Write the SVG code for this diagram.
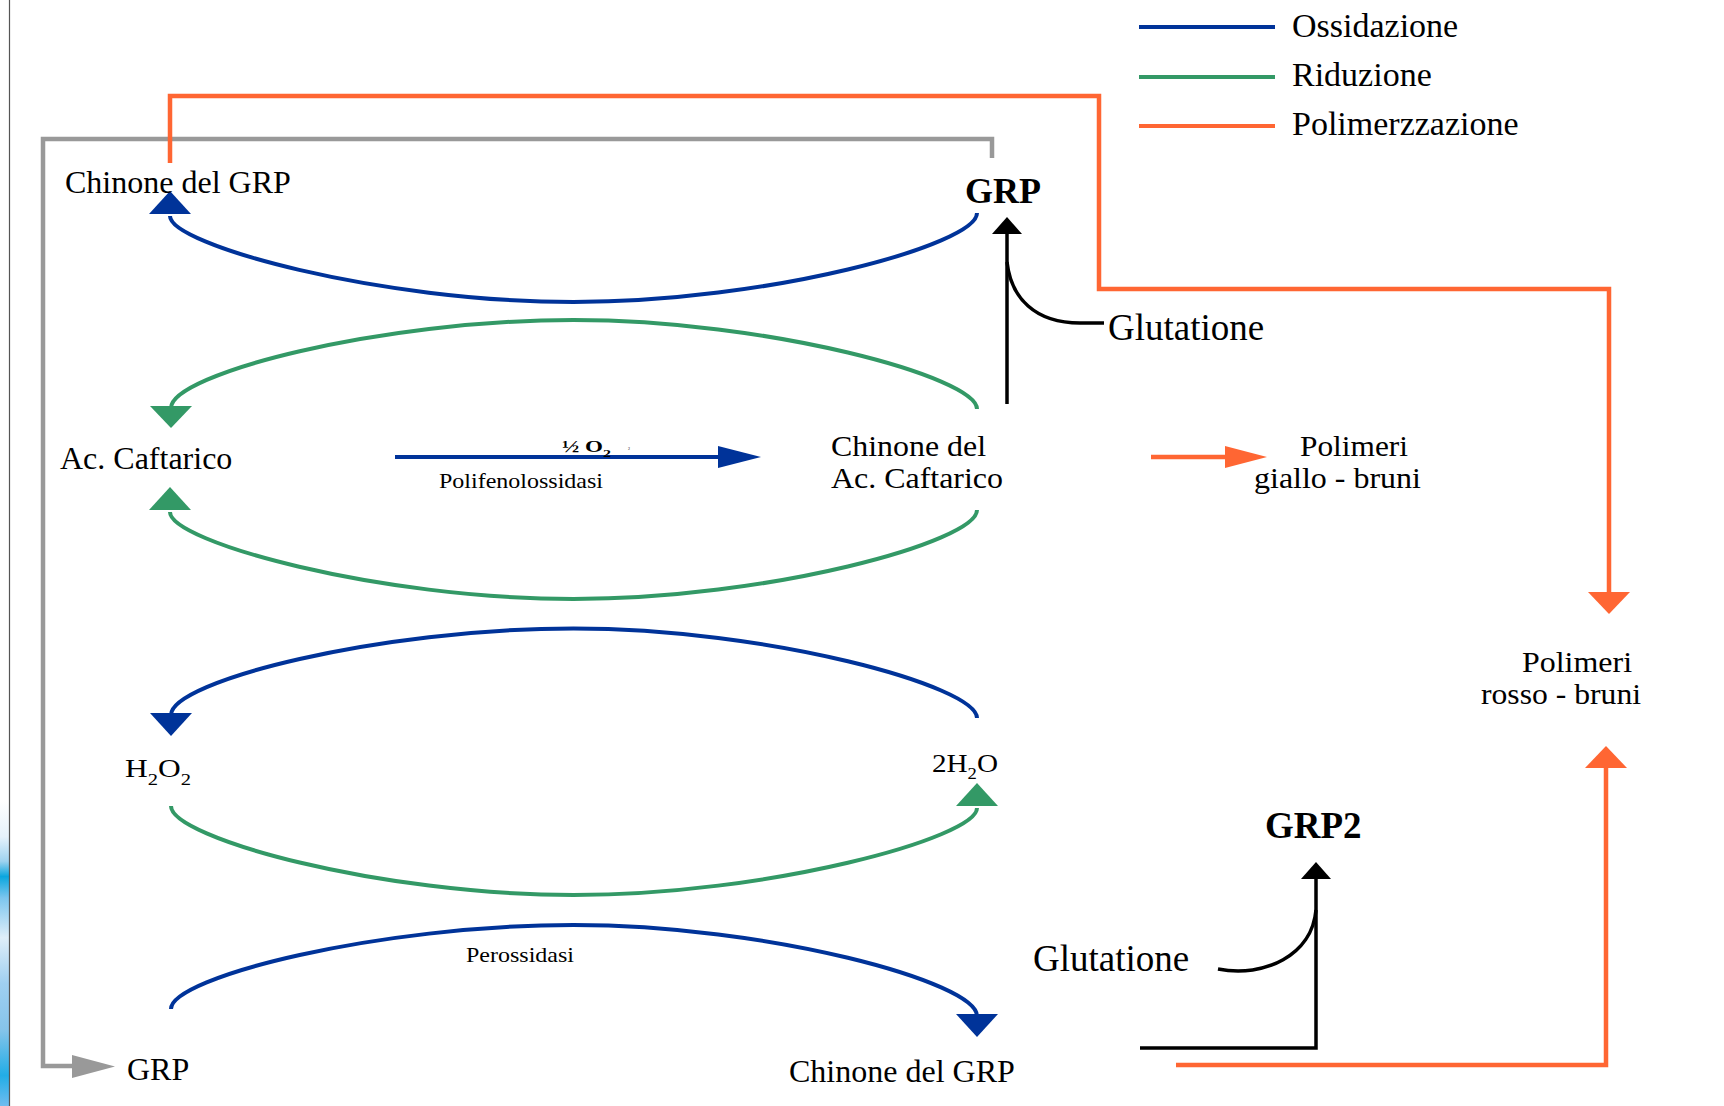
<svg xmlns="http://www.w3.org/2000/svg" width="1724" height="1106" viewBox="0 0 1724 1106">
<defs>
<style>
.t{font-family:"Liberation Serif","Times New Roman",serif;fill:#000}
.m{font-size:32px}
.n{font-size:28.8px}
.b{font-weight:bold}
.ox{fill:none;stroke:#003399;stroke-width:4}
.rd{fill:none;stroke:#339966;stroke-width:4}
.po{fill:none;stroke:#FF6633;stroke-width:4.5}
.gr{fill:none;stroke:#999999;stroke-width:4.5}
.bk{fill:none;stroke:#000;stroke-width:3.5}
.hox{fill:#003399}
.hrd{fill:#339966}
.hpo{fill:#FF6633}
.hgr{fill:#999999}
.hbk{fill:#000}
</style>
<linearGradient id="strip" x1="0" y1="0" x2="0" y2="1">
<stop offset="0" stop-color="#ffffff"/>
<stop offset="0.12" stop-color="#e6f2fb"/>
<stop offset="0.2" stop-color="#9fd3ef"/>
<stop offset="0.25" stop-color="#0aa6df"/>
<stop offset="0.32" stop-color="#7cc6ee"/>
<stop offset="0.45" stop-color="#dfeef9"/>
<stop offset="0.6" stop-color="#9fcff0"/>
<stop offset="0.75" stop-color="#86c4ea"/>
<stop offset="0.9" stop-color="#22ade6"/>
<stop offset="1" stop-color="#6fbcef"/>
</linearGradient>
</defs>
<rect x="0" y="0" width="1724" height="1106" fill="#ffffff"/>
<rect x="0" y="800" width="9" height="306" fill="url(#strip)"/>
<line x1="9.5" y1="0" x2="9.5" y2="1106" stroke="#555555" stroke-width="1.2"/>

<g id="legend">
<line x1="1139" y1="27" x2="1275" y2="27" stroke="#003399" stroke-width="4"/>
<line x1="1139" y1="77" x2="1275" y2="77" stroke="#339966" stroke-width="4"/>
<line x1="1139" y1="126" x2="1275" y2="126" stroke="#FF6633" stroke-width="4"/>
<text class="t" x="1292" y="37" font-size="34">Ossidazione</text>
<text class="t" x="1292" y="86" font-size="34">Riduzione</text>
<text class="t" x="1292" y="135" font-size="34">Polimerzzazione</text>
</g>

<g id="connectors">
<path class="gr" d="M 992 158 L 992 139 L 43 139 L 43 1066 L 74 1066"/>
<polygon class="hgr" points="72,1055 72,1078 115,1066.5"/>
<path class="po" d="M 170 163 L 170 96 L 1099 96 L 1099 289 L 1609 289 L 1609 594"/>
<polygon class="hpo" points="1588,592 1630,592 1609,614"/>
<path class="po" d="M 1176 1065 L 1606 1065 L 1606 766"/>
<polygon class="hpo" points="1585,768 1627,768 1606,746"/>
<line class="po" x1="1151" y1="457" x2="1228" y2="457"/>
<polygon class="hpo" points="1225,446 1225,468 1267,457"/>
<line class="ox" x1="395" y1="457" x2="720" y2="457"/>
<polygon class="hox" points="718,446 718,468 761,457"/>
<path class="ox" d="M 977 213 C 977 245, 767 302, 573.5 302 C 380 302, 170 245, 170 216"/>
<polygon class="hox" points="149,214 191,214 170,191"/>
<path class="rd" d="M 977 409 C 977 377, 767 320, 573.5 320 C 380 320, 171 374, 171 408"/>
<polygon class="hrd" points="150,406 192,406 171,428"/>
<path class="rd" d="M 977 510 C 977 542, 767 599, 573.5 599 C 380 599, 170 542, 170 512"/>
<polygon class="hrd" points="149,510 191,510 170,487"/>
<path class="ox" d="M 977 718 C 977 686, 767 628.5, 573.5 628.5 C 380 628.5, 171 681, 171 715"/>
<polygon class="hox" points="150,713 192,713 171,736"/>
<path class="rd" d="M 171 806 C 171 838, 380 895, 573.5 895 C 767 895, 977 838, 977 808"/>
<polygon class="hrd" points="956,806 998,806 977,783"/>
<path class="ox" d="M 171 1009 C 171 977, 380 925, 573.5 925 C 767 925, 977 982, 977 1016"/>
<polygon class="hox" points="956,1014 998,1014 977,1037"/>
<line class="bk" x1="1007" y1="404" x2="1007" y2="232"/>
<polygon class="hbk" points="992,234 1022,234 1007,217"/>
<path class="bk" d="M 1007 262 C 1011 298, 1035 323, 1080 323 L 1104 323"/>
<path class="bk" d="M 1140 1048 L 1316 1048 L 1316 877"/>
<polygon class="hbk" points="1301,879 1331,879 1316,862"/>
<path class="bk" d="M 1218 969 C 1265 978, 1312 955, 1316 910"/>
</g>

<g id="node-chinone-grp-top"><text class="t m" x="65" y="193">Chinone del GRP</text></g>
<g id="node-grp-top"><text class="t b" x="965" y="203" font-size="36">GRP</text></g>
<g id="node-glutatione-top"><text class="t" x="1108" y="340" font-size="37">Glutatione</text></g>
<g id="node-ac-caftarico"><text class="t m" x="60" y="469">Ac. Caftarico</text></g>
<g id="label-o2">
<text class="t b" x="562" y="452" font-size="17" textLength="41" lengthAdjust="spacingAndGlyphs">½ O</text>
<text class="t b" x="603" y="457" font-size="11" textLength="8" lengthAdjust="spacingAndGlyphs">2</text>
<text class="t" x="628" y="450" font-size="4">2</text>
</g>
<g id="label-polifenolossidasi"><text class="t" x="439" y="488" font-size="22" textLength="164" lengthAdjust="spacingAndGlyphs">Polifenolossidasi</text></g>
<g id="node-chinone-caftarico">
<text class="t n" x="831" y="456" textLength="155" lengthAdjust="spacingAndGlyphs">Chinone del</text>
<text class="t n" x="831" y="488" textLength="172" lengthAdjust="spacingAndGlyphs">Ac. Caftarico</text>
</g>
<g id="node-polimeri-giallo">
<text class="t n" x="1300" y="456" textLength="108" lengthAdjust="spacingAndGlyphs">Polimeri</text>
<text class="t n" x="1254" y="488" textLength="167" lengthAdjust="spacingAndGlyphs">giallo - bruni</text>
</g>
<g id="node-polimeri-rosso">
<text class="t n" x="1522" y="672" textLength="110" lengthAdjust="spacingAndGlyphs">Polimeri</text>
<text class="t n" x="1481" y="704" textLength="160" lengthAdjust="spacingAndGlyphs">rosso - bruni</text>
</g>
<g id="node-h2o2"><text class="t" x="125" y="777" font-size="26" textLength="66" lengthAdjust="spacingAndGlyphs">H<tspan font-size="17" dy="8">2</tspan><tspan dy="-8">O</tspan><tspan font-size="17" dy="8">2</tspan></text></g>
<g id="node-2h2o"><text class="t" x="932" y="772" font-size="25" textLength="66" lengthAdjust="spacingAndGlyphs">2H<tspan font-size="16" dy="7">2</tspan><tspan dy="-7">O</tspan></text></g>
<g id="label-perossidasi"><text class="t" x="466" y="962" font-size="21" textLength="108" lengthAdjust="spacingAndGlyphs">Perossidasi</text></g>
<g id="node-grp-bottom"><text class="t m" x="127" y="1080">GRP</text></g>
<g id="node-chinone-grp-bottom"><text class="t m" x="789" y="1082">Chinone del GRP</text></g>
<g id="node-glutatione-bottom"><text class="t" x="1033" y="971" font-size="37">Glutatione</text></g>
<g id="node-grp2"><text class="t b" x="1265" y="838" font-size="37">GRP2</text></g>
</svg>
